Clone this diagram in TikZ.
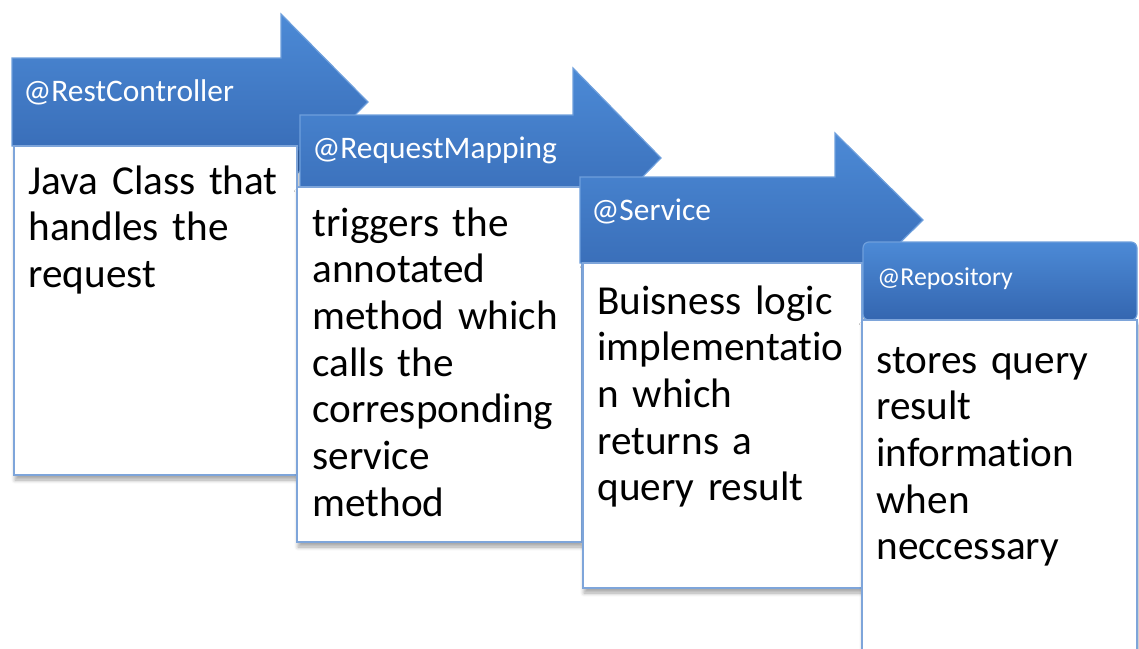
\documentclass[tikz,border=0pt]{standalone}
\usepackage{fontspec}
\setmainfont[Ligatures={NoCommon}]{Carlito}
\usetikzlibrary{positioning,shadows.blur}
\definecolor{bandtop}{HTML}{4C8AD6}
\definecolor{bandbot}{HTML}{3466B0}
\definecolor{bandrim}{HTML}{6E9FDC}
\definecolor{edge}{HTML}{7EA5DA}

\begin{document}
\begin{tikzpicture}[x=0.5pt,y=-0.5pt,
  hdr/.style={top color=bandtop,bottom color=bandbot,draw=bandrim,line width=0.6pt,line join=miter},
  card/.style={draw=edge,fill=white,line width=1pt,blur shadow={shadow xshift=0.5pt,shadow yshift=-2.5pt,shadow blur steps=6,shadow opacity=35}},
  tag/.style={anchor=base west,inner sep=0pt,text=white,font=\fontsize{15.7}{18}\selectfont},
  txt/.style={anchor=base west,inner sep=0pt,text width=150pt,align=left,font=\fontsize{20.6}{23.35}\selectfont}]
\useasboundingbox (0,0) rectangle (1139,648);
% first stage
\draw[hdr] (12,58) -- (281,58) -- (281,14) -- (368,102) -- (281,190) -- (281,146) -- (12,146) -- cycle;
\node[tag] (h1) at (23,101) {@RestController};
\draw[card] (14,146) rectangle (297,475);
\node[txt] (t1) at (28,194) {Java Class that\\handles the\\request};
% second stage
\draw[hdr] (300,115) -- (573,115) -- (573,68) -- (661,158) -- (573,248) -- (573,201) -- (300,201) -- cycle;
\node[tag] (h2) at (312,158) {@RequestMapping};
\draw[card] (297,187) rectangle (582,542);
\node[txt] (t2) at (312,236) {triggers the\\annotated\\method which\\calls the\\corresponding\\service\\method};
% third stage
\draw[hdr] (580,177) -- (835,177) -- (835,133) -- (923,220) -- (835,307) -- (835,263) -- (580,263) -- cycle;
\node[tag] (h3) at (591,220) {@Service};
\draw[card] (583,263) rectangle (862,588);
\node[txt] (t3) at (597,314) {Buisness logic\\implementatio\\n which\\returns a\\query result};
% last stage
\draw[hdr,rounded corners=3pt] (863,242) rectangle (1137,320);
\node[tag,font=\fontsize{12.9}{15}\selectfont] (h4) at (877,285) {@Repository};
\draw[card] (862,320) rectangle (1137,690);
\node[txt] (t4) at (876,373) {stores query\\result\\information\\when\\neccessary};
\end{tikzpicture}
\end{document}
